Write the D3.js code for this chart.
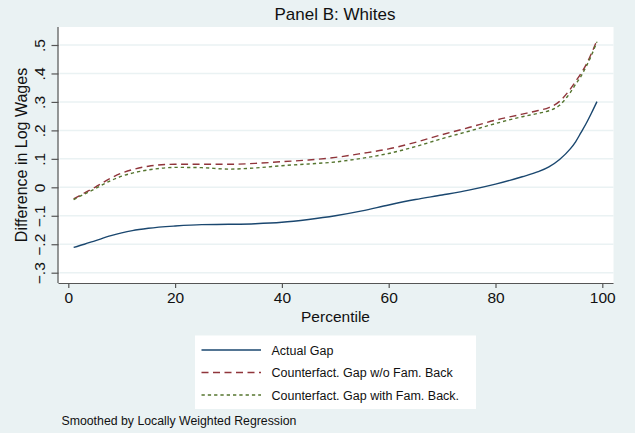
<!DOCTYPE html>
<html><head><meta charset="utf-8">
<script src="https://cdn.jsdelivr.net/npm/d3@7"></script>
<style>body{margin:0;background:#eaf2f3;}svg{display:block;font-family:"Liberation Sans",Arial,sans-serif;}</style>
</head><body><svg id="c" width="635" height="433"></svg>
<script>
const percentiles = [1,3,5,8,10,12,15,20,25,30,35,40,45,50,55,60,65,70,75,80,85,88,90,92,94,95,96,97,98,99];
const actualGap = [-0.211,-0.200,-0.188,-0.170,-0.160,-0.152,-0.144,-0.136,-0.131,-0.130,-0.128,-0.123,-0.113,-0.100,-0.083,-0.062,-0.043,-0.027,-0.010,0.011,0.037,0.055,0.072,0.098,0.135,0.160,0.192,0.225,0.262,0.301];
const gapWithoutFam = [-0.041,-0.020,0.000,0.033,0.050,0.062,0.074,0.081,0.081,0.081,0.084,0.090,0.096,0.105,0.119,0.135,0.158,0.185,0.210,0.236,0.257,0.270,0.280,0.302,0.345,0.372,0.400,0.432,0.472,0.517];
const gapWithFam = [-0.043,-0.024,-0.005,0.024,0.039,0.050,0.061,0.070,0.069,0.064,0.068,0.076,0.082,0.089,0.102,0.119,0.143,0.171,0.197,0.224,0.248,0.260,0.269,0.288,0.333,0.362,0.390,0.425,0.465,0.512];
const xTicks = [0,20,40,60,80,100];
const yTicks = [-0.3,-0.2,-0.1,0,0.1,0.2,0.3,0.4,0.5];
const yTickLabels = ["\u2212.3","\u2212.2","\u2212.1","0",".1",".2",".3",".4",".5"];
const seriesNames = ["Actual Gap","Counterfact. Gap w/o Fam. Back","Counterfact. Gap with Fam. Back."];
const titleText = "Panel B: Whites";
const xTitle = "Percentile";
const yTitle = "Difference in Log Wages";
const noteText = "Smoothed by Locally Weighted Regression";

const colors = ["#1a476f","#90353b","#55752f"];
const dashes = [null,"7,4.5","3.3,3"];
const seriesData = [actualGap, gapWithoutFam, gapWithFam];

const svg = d3.select("#c");
svg.append("rect").attr("width",635).attr("height",433).attr("fill","#eaf2f3");

const plot = {left:58.5, right:613.5, top:27, bottom:283};
svg.append("rect").attr("x",plot.left).attr("y",plot.top).attr("width",plot.right-plot.left).attr("height",plot.bottom-plot.top).attr("fill","#ffffff");

const x = d3.scaleLinear().domain([0,100]).range([68.3,602.3]);
const y = d3.scaleLinear().domain([-0.3,0.5]).range([272.7,45]);

// gridlines
svg.append("g").selectAll("line").data(yTicks).join("line")
  .attr("x1",plot.left+1).attr("x2",plot.right)
  .attr("y1",d=>y(d)).attr("y2",d=>y(d))
  .attr("stroke","#eaf2f3").attr("stroke-width",1.5);

// x axis
const xAxis = d3.axisBottom(x).tickValues(xTicks).tickSize(5).tickPadding(4).tickFormat(d3.format("d"));
const gx = svg.append("g").attr("transform",`translate(0,${plot.bottom})`).call(xAxis);
gx.select(".domain").attr("d",`M${plot.left},0.5H${plot.right}`).attr("stroke","#555").attr("stroke-width",1.2);
gx.selectAll(".tick line").attr("stroke","#555").attr("stroke-width",1.2);
gx.selectAll(".tick text").attr("font-size",15.5).attr("fill","#111").attr("font-family","Liberation Sans, Arial, sans-serif");

// y axis
const yAxis = d3.axisLeft(y).tickValues(yTicks).tickSize(7).tickFormat((d,i)=>yTickLabels[i]);
const gy = svg.append("g").attr("transform",`translate(${plot.left},0)`).call(yAxis);
gy.select(".domain").attr("d",`M-0.5,${plot.top}V${plot.bottom}`).attr("stroke","#555").attr("stroke-width",1.2);
gy.selectAll(".tick line").attr("stroke","#555").attr("stroke-width",1.2);
gy.selectAll(".tick text")
  .attr("font-size",15.5).attr("fill","#111").attr("font-family","Liberation Sans, Arial, sans-serif")
  .attr("x",null).attr("dy",null)
  .attr("text-anchor","middle")
  .attr("transform","translate(-14,0) rotate(-90)");

// lines
const line = d3.line().x((d,i)=>x(percentiles[i])).y(d=>y(d)).curve(d3.curveMonotoneX);
seriesData.forEach((s,k)=>{
  svg.append("path").datum(s).attr("d",line).attr("fill","none")
    .attr("stroke",colors[k]).attr("stroke-width",1.4)
    .attr("stroke-dasharray",dashes[k]);
});

// titles
svg.append("text").attr("x",335).attr("y",19.5).attr("text-anchor","middle").attr("font-size",17).attr("fill","#111").text(titleText);
svg.append("text").attr("x",335.5).attr("y",321.5).attr("text-anchor","middle").attr("font-size",15.5).attr("fill","#111").text(xTitle);
svg.append("text").attr("transform",`translate(26.5,${(plot.top+plot.bottom)/2}) rotate(-90)`).attr("text-anchor","middle").attr("font-size",16).attr("fill","#111").text(yTitle);

// legend
const lg = svg.append("g");
lg.append("rect").attr("x",195).attr("y",335.5).attr("width",281).attr("height",73.5).attr("fill","#ffffff");
const rowY = [350,372.5,395];
seriesNames.forEach((n,k)=>{
  lg.append("line").attr("x1",201.5).attr("x2",261).attr("y1",rowY[k]).attr("y2",rowY[k])
    .attr("stroke",colors[k]).attr("stroke-width",1.4).attr("stroke-dasharray",dashes[k]);
  lg.append("text").attr("x",271.5).attr("y",rowY[k]+4.5).attr("font-size",12.5).attr("fill","#111").text(n);
});

svg.append("text").attr("x",61.5).attr("y",424.5).attr("font-size",12.3).attr("fill","#111").text(noteText);
</script></body></html>
